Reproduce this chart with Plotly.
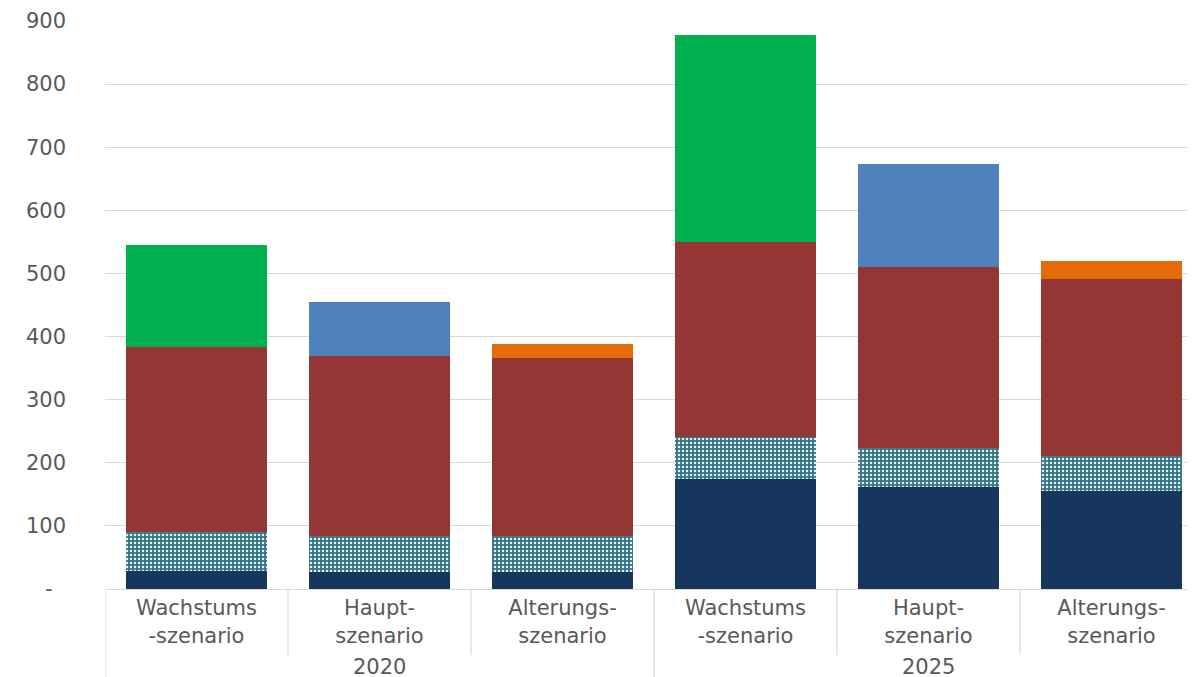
import plotly.graph_objects as go

categories = ["Wachstums<br>-szenario", "Haupt-<br>szenario", "Alterungs-<br>szenario",
              "Wachstums<br>-szenario", "Haupt-<br>szenario", "Alterungs-<br>szenario"]
groups = ["2020", "2025"]
navy = [28, 27, 27, 174, 162, 155]
dotted = [62, 57, 57, 67, 61, 56]
red = [293, 285, 282, 309, 287, 280]
green = [162, 0, 0, 328, 0, 0]
blue = [0, 86, 0, 0, 163, 0]
orange = [0, 0, 22, 0, 0, 29]
y_ticks = [0, 100, 200, 300, 400, 500, 600, 700, 800, 900]
y_ticktext = ["-&nbsp;&nbsp;", "100", "200", "300", "400", "500", "600", "700", "800", "900"]

xpos = list(range(len(categories)))
FONT = "DejaVu Sans"
GRAY = "#595959"
LINE = "#D9D9D9"

fig = go.Figure()
bw = 0.77
fig.add_bar(x=xpos, y=navy, marker=dict(color="#17365D", line=dict(width=0)), width=bw)
fig.add_bar(x=xpos, y=dotted, width=bw,
            marker=dict(color="#FFFFFF", line=dict(width=0),
                        pattern=dict(shape=".", bgcolor="#347585", fgcolor="#E6F2F4",
                                     fgopacity=1, size=4, solidity=0.3, fillmode="overlay")))
fig.add_bar(x=xpos, y=red, marker=dict(color="#943634", line=dict(width=0)), width=bw)
fig.add_bar(x=xpos, y=green, marker=dict(color="#00B050", line=dict(width=0)), width=bw)
fig.add_bar(x=xpos, y=blue, marker=dict(color="#4F81BD", line=dict(width=0)), width=bw)
fig.add_bar(x=xpos, y=orange, marker=dict(color="#E36C09", line=dict(width=0)), width=bw)

n = len(categories)
per_group = n // len(groups)
shapes = []
for i in range(n + 1):
    b = i - 0.5
    long = (i % per_group == 0)
    shapes.append(dict(type="line", xref="x", yref="paper", x0=b, x1=b,
                       y0=0, y1=-0.116 if not long else -0.2,
                       line=dict(color=LINE, width=1.2)))
annotations = []
for g, name in enumerate(groups):
    annotations.append(dict(x=g * per_group + (per_group - 1) / 2, xref="x", yref="paper",
                            y=-0.138, yanchor="middle", text=name, showarrow=False,
                            font=dict(family=FONT, size=21, color=GRAY)))

fig.update_layout(
    barmode="stack", width=1195, height=677, showlegend=False,
    plot_bgcolor="white", paper_bgcolor="white",
    margin=dict(l=97, r=0, t=13, b=96),
    shapes=shapes, annotations=annotations,
    xaxis=dict(range=[-0.5, 5.5], tickvals=xpos, ticktext=categories,
               tickfont=dict(family=FONT, size=21, color=GRAY), showgrid=False,
               showline=True, linecolor=LINE, linewidth=1.2, ticks="", zeroline=False,
               tickangle=0),
    yaxis=dict(range=[0, 900], tickvals=y_ticks, ticktext=y_ticktext,
               tickfont=dict(family=FONT, size=21, color=GRAY), showgrid=True,
               gridcolor=LINE, gridwidth=1, zeroline=False, showline=False,
               ticklabelstandoff=38),
)
fig.write_html("out.html")
